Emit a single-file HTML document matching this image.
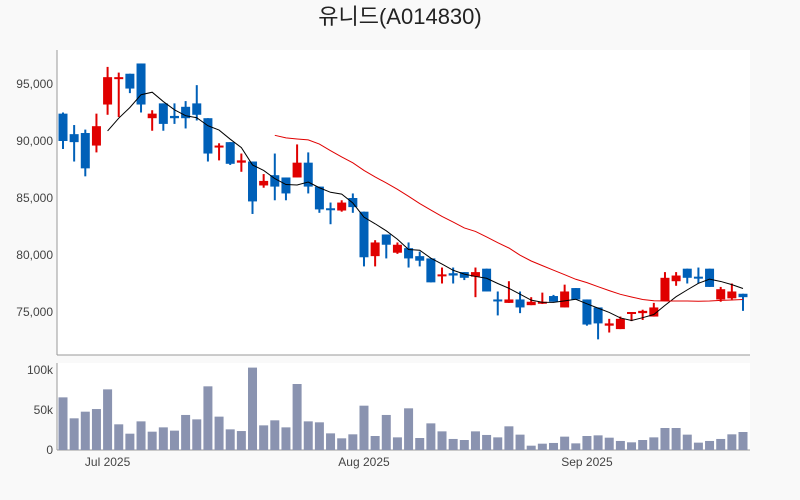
<!DOCTYPE html>
<html><head><meta charset="utf-8">
<style>
body{margin:0;background:#f9f9f9;font-family:"Liberation Sans","Noto Sans CJK KR",sans-serif;}
svg{display:block}
</style></head>
<body>
<svg id="chart" width="800" height="500" xmlns="http://www.w3.org/2000/svg">
<rect x="0" y="0" width="800" height="500" fill="#f9f9f9"/>
<text x="400" y="24" text-anchor="middle" font-size="22" fill="#222" font-family="Liberation Sans, Noto Sans CJK KR, sans-serif">유니드(A014830)</text>
<rect x="57" y="50" width="693" height="305" fill="#fff"/>
<rect x="57" y="363" width="693" height="87" fill="#fff"/>
<g id="g"></g>
</svg>
<script>
const opens  =[92400,90600,90700,89600,93200,95500,95900,96800,92000,93300,92200,93000,93300,92000,89500,89900,88100,88200,86100,87000,86800,86800,88100,86000,84100,83900,85000,83800,79900,81800,80200,80600,79900,79700,78200,78400,78500,78100,78800,76100,75800,76100,75600,75800,76400,75400,77100,76100,75400,73800,73500,74900,74900,74600,76000,77700,78800,78100,78800,76100,76200,76600];
const closes =[90000,89900,87600,91300,95600,95600,94600,93200,92400,91500,92000,92000,92300,88900,89600,88000,88300,84700,86500,86000,85400,88100,86000,84000,84000,84600,84200,79800,81100,80900,80900,79700,79500,77600,78300,78200,78000,78500,76800,76000,76100,75400,75900,75900,75900,76800,76100,73900,74000,74000,74400,75000,75100,75400,78000,78200,78000,78000,77200,77000,76800,76300];
const highs  =[92500,91400,91000,92400,96500,96000,95900,96800,92700,93300,93300,93500,94900,92000,89800,89900,88900,88200,87100,88900,86800,89700,89000,86000,84600,84800,85400,83800,81300,81800,81100,81100,80300,79700,78900,78900,78500,78900,78800,76800,77700,76800,76300,76700,76500,77400,77100,76100,75400,74400,74600,75000,75200,75800,78500,78500,78800,78900,78800,77200,77500,76600];
const lows   =[89300,88200,86900,89000,92300,92100,94200,92500,90900,90900,91500,91100,91800,88200,88300,87900,87300,83600,85900,84800,84800,86800,85400,83700,82700,83800,83700,79000,79000,79700,80100,78900,79000,77600,77500,77500,77800,76300,76800,74700,75800,74900,75600,75700,75900,75400,76100,73800,72600,73200,73500,74200,74300,74600,76000,77300,77500,77500,77200,75900,76100,75100];
const volumes=[65800,39600,47900,51200,75800,32100,20400,35800,22900,28300,24200,43800,38300,79600,41700,25800,23700,103000,30800,37100,28300,82500,35800,34600,20800,14600,19600,55400,17500,43800,15800,52100,15000,33300,23300,13800,12500,23300,18800,15800,29600,19200,5400,7900,8800,16700,8300,17500,18300,15400,11300,9600,12500,15800,27500,27500,19200,9200,11300,13800,19600,22500];
const priceTicks=[75000,80000,85000,90000,95000];
const priceTickLabels=["75,000","80,000","85,000","90,000","95,000"];
const volTicks=[0,50000,100000];
const volTickLabels=["0","50k","100k"];
const dateTickIndex=[4,27,47];
const dateTickLabels=["Jul 2025","Aug 2025","Sep 2025"];

const NS="http://www.w3.org/2000/svg";
const g=document.getElementById('g');
const xs=i=>63+i*(743-63)/61;
const yp=p=>312-(p-75000)*57/5000;
const yv=v=>450-v*80/100000;
function mk(tag,attrs,parent){const e=document.createElementNS(NS,tag);for(const k in attrs)e.setAttribute(k,attrs[k]);(parent||g).appendChild(e);return e;}

// grid/axes
priceTicks.forEach((p,i)=>{
  const t=mk('text',{x:53,y:yp(p)+4,'text-anchor':'end','font-size':12,fill:'#444'});
  t.textContent=priceTickLabels[i];
  
  
});
volTicks.forEach((v,i)=>{
  const t=mk('text',{x:53,y:yv(v)+4,'text-anchor':'end','font-size':12,fill:'#444'});
  t.textContent=volTickLabels[i];
  
  
});
dateTickIndex.forEach((d,i)=>{
  const t=mk('text',{x:xs(d),y:466,'text-anchor':'middle','font-size':12,fill:'#444'});
  t.textContent=dateTickLabels[i];
  
  
});
let ax=mk('line',{x1:57,y1:50,x2:57,y2:355,stroke:'#999','stroke-width':1});


ax=mk('line',{x1:57,y1:355,x2:750,y2:355,stroke:'#999','stroke-width':1});


ax=mk('line',{x1:57,y1:363,x2:57,y2:450,stroke:'#999','stroke-width':1});


ax=mk('line',{x1:57,y1:450,x2:750,y2:450,stroke:'#999','stroke-width':1});



// volume bars
volumes.forEach((v,i)=>{
  const r=mk('rect',{x:xs(i)-4.5,y:yv(v),width:9,height:450-yv(v),fill:'#8a93b0'});
  
  
});

// candles
opens.forEach((o,i)=>{
  const c=closes[i];
  const col=c>=o?'#e00000':'#0060b8';
  const x=xs(i);
  const w=mk('line',{x1:x,x2:x,y1:yp(highs[i]),y2:yp(lows[i]),stroke:col,'stroke-width':2});
  
  
  const top=yp(Math.max(o,c)),bot=yp(Math.min(o,c));
  const b=mk('rect',{x:x-4.5,y:top,width:9,height:Math.max(bot-top,2),fill:col});
  
  
});

// moving averages
function ma(n){const out=[];for(let i=n-1;i<closes.length;i++){let s=0;for(let j=i-n+1;j<=i;j++)s+=closes[j];out.push([i,s/n]);}return out;}
const ma5=ma(5),ma20=ma(20);
let l=mk('polyline',{points:ma5.map(([i,v])=>xs(i)+','+yp(v)).join(' '),fill:'none',stroke:'#000','stroke-width':1});


l=mk('polyline',{points:ma20.map(([i,v])=>xs(i)+','+yp(v)).join(' '),fill:'none',stroke:'#e00000','stroke-width':1});


</script>
</body></html>
